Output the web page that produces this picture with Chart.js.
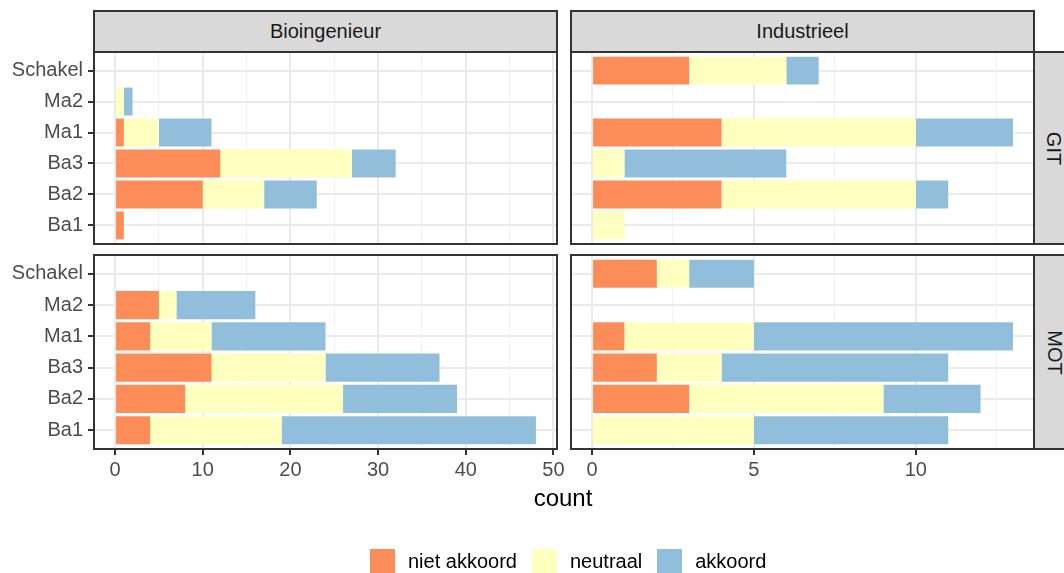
<!DOCTYPE html>
<html>
<head>
<meta charset="utf-8">
<script src="https://cdn.jsdelivr.net/npm/chart.js@4.4.1/dist/chart.umd.min.js"></script>
<style>
    body{margin:0;background:#fff;font-family:"Liberation Sans",Arial,sans-serif;}
    #wrap{position:relative;width:1064px;height:573px;overflow:hidden;background:#fff;}
    #wrap canvas{position:absolute;left:0;top:0;}
    .strip{position:absolute;box-sizing:border-box;background:#D9D9D9;border:2px solid #333;color:#1A1A1A;font-size:20px;display:flex;align-items:center;justify-content:center;}
    .strip.side span{display:inline-block;transform:rotate(90deg);}
    #xtitle{position:absolute;left:463px;width:200px;top:486px;text-align:center;font-size:24px;line-height:24px;color:#000;}
    #legend{position:absolute;left:370px;top:549px;display:flex;align-items:center;font-size:20px;color:#000;}
    #legend .key{width:25px;height:24px;margin-right:13px;}
    #legend .lab{margin-right:15px;line-height:24px;}
</style>
</head>
<body>
<div id="wrap">
    <canvas id="bioGit" width="1064" height="573"></canvas>
    <canvas id="indGit" width="1064" height="573"></canvas>
    <canvas id="bioMot" width="1064" height="573"></canvas>
    <canvas id="indMot" width="1064" height="573"></canvas>
    <div class="strip" style="left:93px;top:10px;width:465px;height:43px;">Bioingenieur</div>
    <div class="strip" style="left:570px;top:10px;width:465px;height:43px;">Industrieel</div>
    <div class="strip side" style="left:1033px;top:51px;width:42px;height:194px;"><span>GIT</span></div>
    <div class="strip side" style="left:1033px;top:254px;width:42px;height:196px;"><span>MOT</span></div>
    <div id="xtitle">count</div>
    <div id="legend"></div>
</div>
<script>
// categorieen van onder naar boven
const categories = ['Ba1','Ba2','Ba3','Ma1','Ma2','Schakel'];
const responses = ['niet akkoord','neutraal','akkoord'];
const colors = ['#FC8D59','#FFFFBF','#91BFDB'];

// Bioingenieur - GIT
const bioGitNiet = [1,10,12,1,0,0];
const bioGitNeutraal = [0,7,15,4,1,0];
const bioGitAkkoord = [0,6,5,6,1,0];
// Industrieel - GIT
const indGitNiet = [0,4,0,4,0,3];
const indGitNeutraal = [1,6,1,6,0,3];
const indGitAkkoord = [0,1,5,3,0,1];
// Bioingenieur - MOT
const bioMotNiet = [4,8,11,4,5,0];
const bioMotNeutraal = [15,18,13,7,2,0];
const bioMotAkkoord = [29,13,13,13,9,0];
// Industrieel - MOT
const indMotNiet = [0,3,2,1,0,2];
const indMotNeutraal = [5,6,2,4,0,1];
const indMotAkkoord = [6,3,7,8,0,2];

// x-as ticks per kolom
const bioMajor = [0,10,20,30,40,50];
const bioMinor = [5,15,25,35,45];
const indMajor = [0,5,10];
const indMinor = [2.5,7.5,12.5];

const fontTick = {family:'"Liberation Sans", Arial, sans-serif', size:20};

const panelBorder = {
    id: 'panelBorder',
    afterDraw(chart){
        const {ctx, chartArea:a} = chart;
        ctx.save();
        ctx.strokeStyle = '#333333';
        ctx.lineWidth = 2;
        ctx.strokeRect(a.left, a.top, a.right-a.left, a.bottom-a.top);
        ctx.restore();
    }
};

const makePanel = (id, series, xMin, xMax, major, minor, box, showX, showY) => {
    const allTicks = major.concat(minor).sort((a,b)=>a-b);
    const yAxisW = showY ? 90 : 0;
    const xAxisH = showX ? 30 : 0;
    return new Chart(document.getElementById(id), {
        type: 'bar',
        data: {
            datasets: series.map((vals,k)=>({
                label: responses[k],
                data: vals.map((v,i)=>({x: v===0 ? null : v, y: i+1})),
                backgroundColor: colors[k],
                borderWidth: 0
            }))
        },
        options: {
            indexAxis: 'y',
            responsive: false,
            animation: false,
            devicePixelRatio: 1,
            events: [],
            layout: {padding: {
                left: box.left - yAxisW,
                top: box.top,
                right: 1064 - box.right,
                bottom: 573 - box.bottom - xAxisH
            }},
            plugins: {legend:{display:false}, tooltip:{enabled:false}},
            datasets: {bar: {categoryPercentage: 0.9, barPercentage: 1}},
            scales: {
                x: {
                    type: 'linear', stacked: true, min: xMin, max: xMax,
                    border: {display:false},
                    afterBuildTicks: s => { s.ticks = allTicks.map(v=>({value:v})); },
                    afterFit: s => { s.height = xAxisH; },
                    grid: {
                        color: c => major.includes(c.tick.value) ? '#EBEBEB' : '#F2F2F2',
                        lineWidth: c => major.includes(c.tick.value) ? 2 : 1,
                        drawTicks: showX,
                        tickLength: 6,
                        tickWidth: 2,
                        tickColor: c => major.includes(c.tick.value) ? '#333333' : 'rgba(0,0,0,0)'
                    },
                    ticks: {
                        display: showX, autoSkip: false, maxRotation: 0, padding: 3,
                        color: '#4D4D4D', font: fontTick,
                        callback: v => major.includes(v) ? String(v) : ''
                    }
                },
                y: {
                    type: 'linear', stacked: true, min: 0.4, max: 6.6,
                    offset: false,
                    border: {display:false},
                    afterBuildTicks: s => { s.ticks = categories.map((c,i)=>({value:i+1})); },
                    afterFit: s => { s.width = yAxisW; },
                    grid: {
                        offset: false,
                        color: '#EBEBEB', lineWidth: 2,
                        drawTicks: showY, tickLength: 6, tickWidth: 2, tickColor: '#333333'
                    },
                    ticks: {
                        display: showY, autoSkip: false, padding: 5,
                        color: '#4D4D4D', font: fontTick,
                        callback: v => categories[v-1]
                    }
                }
            }
        },
        plugins: [panelBorder]
    });
};

makePanel('bioGit', [bioGitNiet,bioGitNeutraal,bioGitAkkoord], -2.4, 50.4, bioMajor, bioMinor,
    {left:94, top:52, right:557, bottom:244}, false, true);
makePanel('indGit', [indGitNiet,indGitNeutraal,indGitAkkoord], -0.65, 13.65, indMajor, indMinor,
    {left:571, top:52, right:1034, bottom:244}, false, false);
makePanel('bioMot', [bioMotNiet,bioMotNeutraal,bioMotAkkoord], -2.4, 50.4, bioMajor, bioMinor,
    {left:94, top:255, right:557, bottom:449}, true, true);
makePanel('indMot', [indMotNiet,indMotNeutraal,indMotAkkoord], -0.65, 13.65, indMajor, indMinor,
    {left:571, top:255, right:1034, bottom:449}, true, false);

// legenda
let leg = '';
responses.forEach((r,k)=>{
    leg += `<span class="key" style="background:${colors[k]}"></span><span class="lab">${r}</span>`;
});
document.getElementById('legend').innerHTML = leg;
</script>
</body>
</html>
